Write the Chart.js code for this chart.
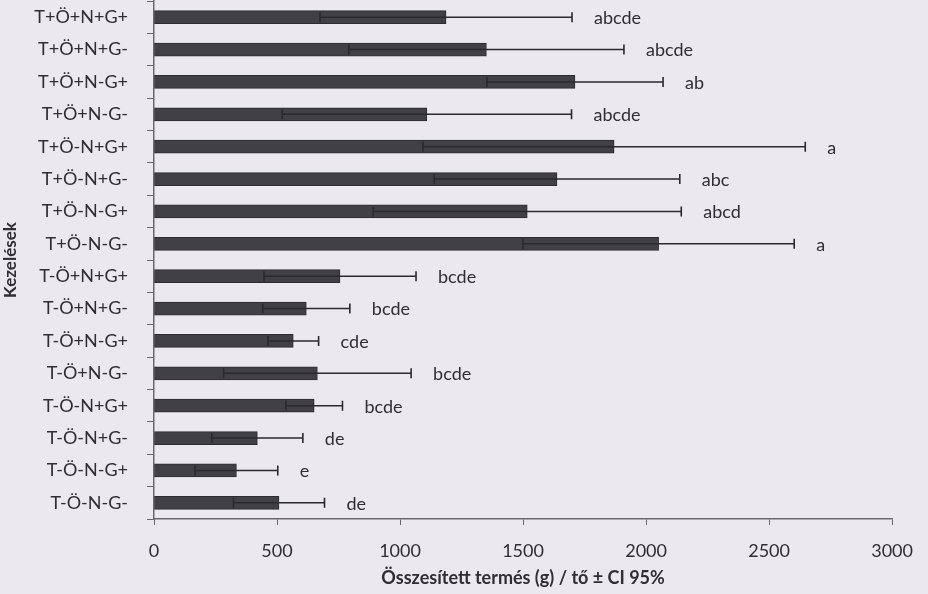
<!DOCTYPE html>
<html>
<head>
<meta charset="utf-8">
<script src="https://cdn.jsdelivr.net/npm/chart.js@4/dist/chart.umd.min.js"></script>
<style>
  html, body { margin: 0; padding: 0; background: #ebe8ef; }
  #wrap { width: 928px; height: 594px; }
</style>
</head>
<body>
<div id="wrap"><canvas id="c" width="928" height="594"></canvas></div>
<script>
// Kezelések (treatments), top to bottom
const categories = [
  'T+Ö+N+G+', 'T+Ö+N+G-', 'T+Ö+N-G+', 'T+Ö+N-G-',
  'T+Ö-N+G+', 'T+Ö-N+G-', 'T+Ö-N-G+', 'T+Ö-N-G-',
  'T-Ö+N+G+', 'T-Ö+N+G-', 'T-Ö+N-G+', 'T-Ö+N-G-',
  'T-Ö-N+G+', 'T-Ö-N+G-', 'T-Ö-N-G+', 'T-Ö-N-G-'
];
// mean total yield per plant (g)
const meanYield = [1187, 1351, 1711, 1109, 1870, 1638, 1517, 2051,
                   756, 619, 566, 664, 651, 420, 335, 508];
// 95% confidence interval half-width (g)
const ci95 = [512, 559, 358, 588, 777, 499, 626, 551,
              309, 177, 103, 381, 115, 185, 168, 185];
// significance groups
const groups = ['abcde', 'abcde', 'ab', 'abcde', 'a', 'abc', 'abcd', 'a',
                'bcde', 'bcde', 'cde', 'bcde', 'bcde', 'de', 'e', 'de'];
const xTicks = [0, 500, 1000, 1500, 2000, 2500, 3000];

const FONT = 'Lato, "Open Sans", sans-serif';
const INK = '#2f2e34';
const AXIS = '#6a686e';

const background = {
  id: 'background',
  beforeDraw(chart) {
    const ctx = chart.ctx;
    ctx.save();
    ctx.fillStyle = '#ebe8ef';
    ctx.fillRect(0, 0, chart.width, chart.height);
    ctx.restore();
  }
};

// CI whiskers and group letters, placed through the chart's scales
const ciBars = {
  id: 'ciBars',
  afterDatasetsDraw(chart) {
    const ctx = chart.ctx;
    const xs = chart.scales.x, ys = chart.scales.y;
    ctx.save();
    ctx.strokeStyle = '#2a292e';
    ctx.lineWidth = 1.6;
    ctx.font = '18px ' + FONT;
    ctx.fillStyle = INK;
    ctx.textBaseline = 'middle';
    ctx.textAlign = 'left';
    meanYield.forEach((m, i) => {
      const y = ys.getPixelForValue(i);
      const lo = xs.getPixelForValue(m - ci95[i]);
      const hi = xs.getPixelForValue(m + ci95[i]);
      ctx.beginPath();
      ctx.moveTo(lo, y); ctx.lineTo(hi, y);
      ctx.moveTo(lo, y - 5); ctx.lineTo(lo, y + 5);
      ctx.moveTo(hi, y - 5); ctx.lineTo(hi, y + 5);
      ctx.stroke();
      ctx.fillText(groups[i], hi + 22, y + 1);
    });
    ctx.restore();
  }
};

new Chart(document.getElementById('c'), {
  type: 'bar',
  data: {
    labels: categories,
    datasets: [{
      data: meanYield,
      backgroundColor: '#404045',
      borderColor: '#2c2b30',
      borderWidth: 1,
      borderSkipped: false,
      barThickness: 13
    }]
  },
  options: {
    indexAxis: 'y',
    responsive: false,
    animation: false,
    layout: { padding: { top: 1, right: 32, bottom: 5, left: 0 } },
    plugins: { legend: { display: false }, tooltip: { enabled: false } },
    scales: {
      x: {
        min: 0, max: 3000,
        afterBuildTicks(scale) { scale.ticks = xTicks.map(v => ({ value: v })); },
        afterFit(scale) { scale.height = 70; },
        grid: { drawOnChartArea: false, drawTicks: true, tickLength: 6, color: AXIS },
        border: { color: AXIS, width: 1.5 },
        ticks: {
          color: INK, font: { family: FONT, size: 18 }, padding: 15, maxRotation: 0,
          callback: v => String(v)
        },
        title: {
          display: true,
          text: 'Összesített termés (g) / tő ± CI 95%',
          color: INK,
          font: { family: FONT, size: 18, weight: 'bold' },
          padding: { top: 0, bottom: 0 }
        }
      },
      y: {
        offset: true,
        afterFit(scale) {
          scale.width = 154;
          scale.paddingTop = 0;
          scale.paddingBottom = 0;
        },
        grid: { offset: true, drawOnChartArea: false, drawTicks: true, tickLength: 7, color: AXIS },
        border: { color: AXIS, width: 1.5 },
        ticks: { color: INK, font: { family: FONT, size: 18 }, padding: 19, autoSkip: false },
        title: {
          display: true,
          text: 'Kezelések',
          color: INK,
          font: { family: FONT, size: 17, weight: 'bold' },
          padding: { top: 0, bottom: 0 }
        }
      }
    }
  },
  plugins: [background, ciBars]
});
</script>
</body>
</html>
